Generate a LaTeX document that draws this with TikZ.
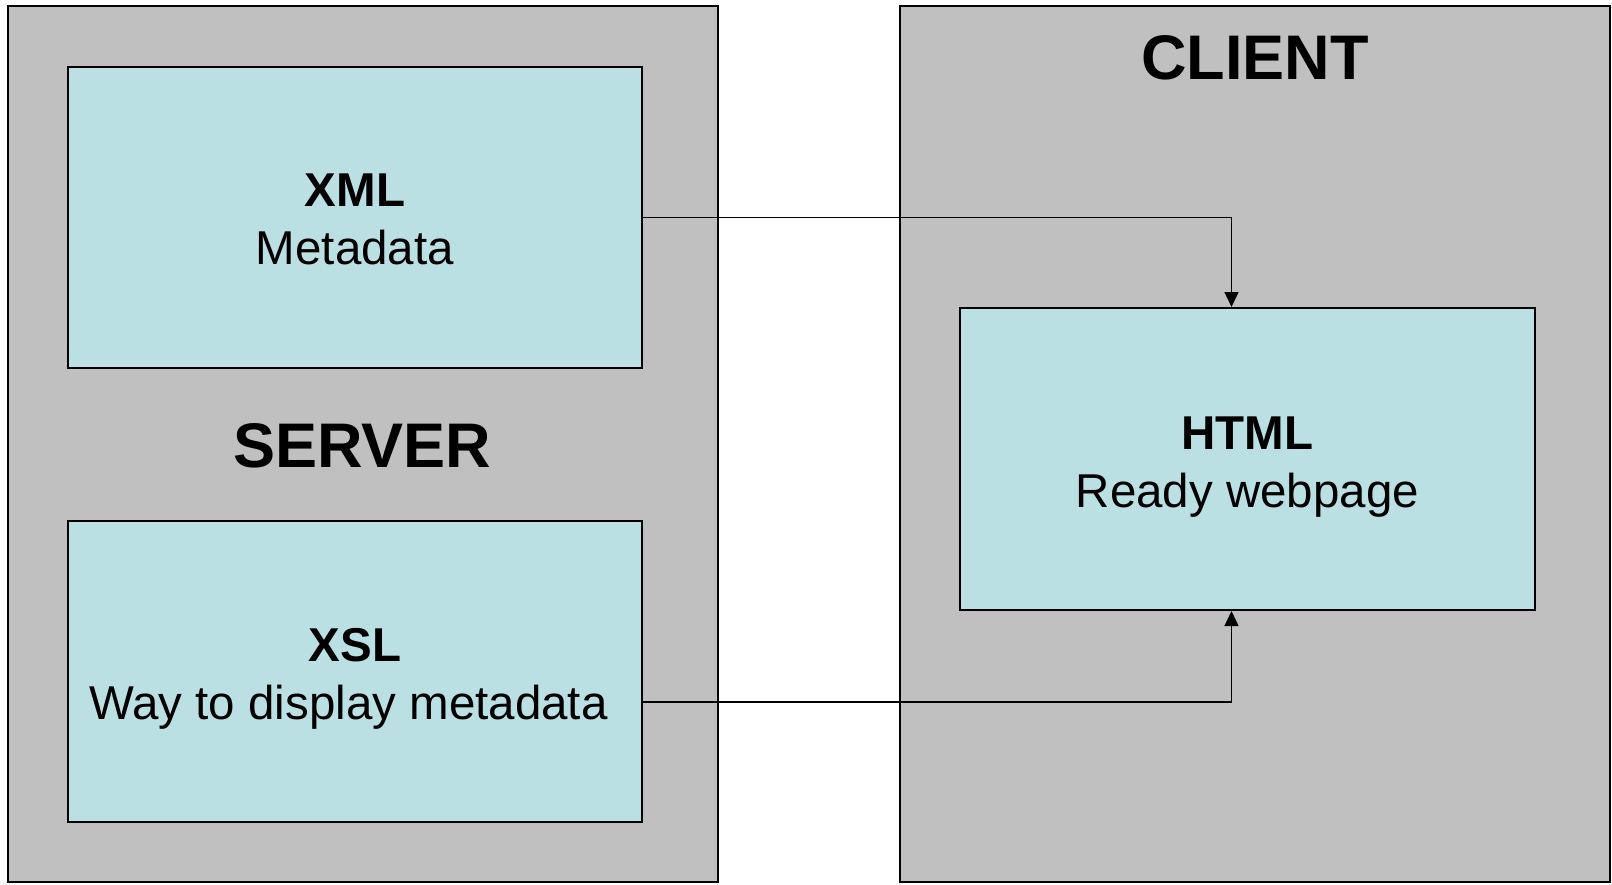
\documentclass[tikz,border=0pt]{standalone}
\usepackage{fontspec}
\setmainfont{Liberation Sans}
\usetikzlibrary{arrows.meta}
\definecolor{panelgray}{HTML}{C0C0C0}
\definecolor{boxcyan}{HTML}{BBE0E3}
\begin{document}
\begin{tikzpicture}[x=1pt,y=-1pt,
  panel/.style={draw=black, line width=2pt, fill=panelgray, inner sep=0pt},
  docbox/.style={draw=black, line width=2pt, fill=boxcyan, inner sep=0pt,
    minimum width=574pt, minimum height=301pt},
  doctext/.style={align=center, inner sep=0pt,
    font=\fontsize{47.5}{58}\selectfont},
  paneltitle/.style={font=\fontsize{63}{70}\selectfont\bfseries, inner sep=0pt},
  flow/.style={draw=black, line width=1.5pt, -{Triangle[length=15pt,width=14pt]}}]
  \useasboundingbox (0,0) rectangle (1612,884);
  % two panels
  \node[panel, minimum width=710pt, minimum height=876pt] (server) at (362.5,444) {};
  \node[panel, minimum width=710pt, minimum height=876pt] (client) at (1255,444) {};
  \node[paneltitle] (serverlabel) at (362,446) {SERVER};
  \node[paneltitle] (clientlabel) at (1255,58) {CLIENT};
  % documents
  \node[docbox] (xml) at (355,217.5) {};
  \node[docbox] (xsl) at (355,671) {};
  \node[docbox, minimum width=575pt, minimum height=302pt] (html) at (1247.5,459) {};
  \node[doctext] (xmltext) at (355,219.5) {\textbf{XML}\\Metadata};
  \node[doctext] (xsltext) at (355,678.5) {\textbf{XSL}\\Way to display metadata\hspace*{13pt}};
  \node[doctext] (htmltext) at (1247.5,467.5) {\textbf{HTML}\\Ready webpage};
  % connectors
  \draw[flow] (xml.east) -| ([xshift=-16pt]html.north);
  \draw[flow] ([yshift=-31pt]xsl.east) -| ([xshift=-16pt]html.south);
\end{tikzpicture}
\end{document}
